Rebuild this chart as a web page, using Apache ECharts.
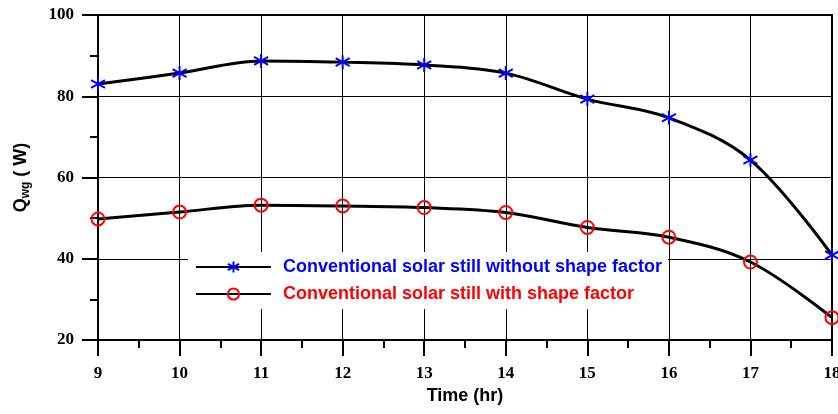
<!DOCTYPE html>
<html>
<head>
<meta charset="utf-8">
<script src="https://cdn.jsdelivr.net/npm/echarts@6/dist/echarts.min.js"></script>
<style>html,body{margin:0;padding:0;background:#fff}#c{width:838px;height:414px}</style>
</head>
<body>
<div id="c"></div>
<script>
var hours = [9, 10, 11, 12, 13, 14, 15, 16, 17, 18];
var withoutShape = [83.0, 85.7, 88.7, 88.4, 87.7, 85.7, 79.3, 74.7, 64.3, 40.9];
var withShape = [49.8, 51.5, 53.2, 53.0, 52.6, 51.4, 47.7, 45.3, 39.2, 25.5];
var seriesNames = ['Conventional solar still without shape factor', 'Conventional solar still with shape factor'];

var starPath = 'path://M50,0L50,100M5,22L95,78M5,78L95,22';

function pairs(xs, ys) { return xs.map(function (x, i) { return [x, ys[i]]; }); }

var chart = echarts.init(document.getElementById('c'));
chart.setOption({
  animation: false,
  backgroundColor: '#fff',
  grid: { left: 98, right: 6, top: 15, bottom: 74, containLabel: false, outerBoundsMode: 'none',
          show: true, borderColor: '#000', borderWidth: 2, backgroundColor: 'transparent' },
  xAxis: {
    type: 'value', min: 9, max: 18, interval: 1,
    name: 'Time (hr)', nameLocation: 'middle', nameGap: 44,
    nameTextStyle: { fontFamily: 'Liberation Sans', fontWeight: 'bold', fontSize: 18, color: '#000' },
    axisLine: { show: true, onZero: false, lineStyle: { color: '#000', width: 2 } },
    axisTick: { show: true, inside: false, length: 16, lineStyle: { color: '#000', width: 2 } },
    minorTick: { show: true, splitNumber: 2, length: 8, lineStyle: { color: '#000', width: 2 } },
    axisLabel: { margin: 25, fontFamily: 'Liberation Serif', fontWeight: 'bold', fontSize: 17, color: '#000' },
    splitLine: { show: true, lineStyle: { color: '#000', width: 1 } }
  },
  yAxis: {
    type: 'value', min: 20, max: 100, interval: 20,
    name: '{q|Q}{s|wg}{q| ( W)}', nameLocation: 'middle', nameGap: 66, nameRotate: 90,
    nameTextStyle: { color: '#000', rich: {
      q: { fontFamily: 'Liberation Sans', fontWeight: 'bold', fontSize: 18, color: '#000' },
      s: { fontFamily: 'Liberation Sans', fontWeight: 'bold', fontSize: 12, color: '#000', verticalAlign: 'bottom', padding: [9, 0, 0, 0] }
    } },
    axisLine: { show: true, onZero: false, lineStyle: { color: '#000', width: 2 } },
    axisTick: { show: true, inside: false, length: 16, lineStyle: { color: '#000', width: 2 } },
    minorTick: { show: true, splitNumber: 2, length: 8, lineStyle: { color: '#000', width: 2 } },
    axisLabel: { margin: 24, fontFamily: 'Liberation Serif', fontWeight: 'bold', fontSize: 17, color: '#000' },
    splitLine: { show: true, lineStyle: { color: '#000', width: 1 } }
  },
  legend: {
    orient: 'vertical', left: 188, top: 252,
    backgroundColor: '#fff', padding: [6, 6, 6, 7],
    itemWidth: 75, itemHeight: 14, itemGap: 9,
    textStyle: { fontFamily: 'Liberation Sans', fontWeight: 'bold', fontSize: 18, padding: [0, 0, 0, 7] },
    data: [
      { name: seriesNames[0], textStyle: { color: '#0000ff' } },
      { name: seriesNames[1], textStyle: { color: '#ff0000' } }
    ]
  },
  series: [
    {
      name: seriesNames[0], type: 'line', smooth: 0.35,
      data: pairs(hours, withoutShape),
      symbol: starPath, symbolSize: 14,
      lineStyle: { color: '#000', width: 3 },
      itemStyle: { color: 'none', borderColor: '#0000ff', borderWidth: 2 },
      z: 3
    },
    {
      name: seriesNames[1], type: 'line', smooth: 0.35,
      data: pairs(hours, withShape),
      symbol: 'circle', symbolSize: 13,
      lineStyle: { color: '#000', width: 3 },
      itemStyle: { color: 'none', borderColor: '#ff0000', borderWidth: 2 },
      z: 3
    }
  ]
});
</script>
</body>
</html>
